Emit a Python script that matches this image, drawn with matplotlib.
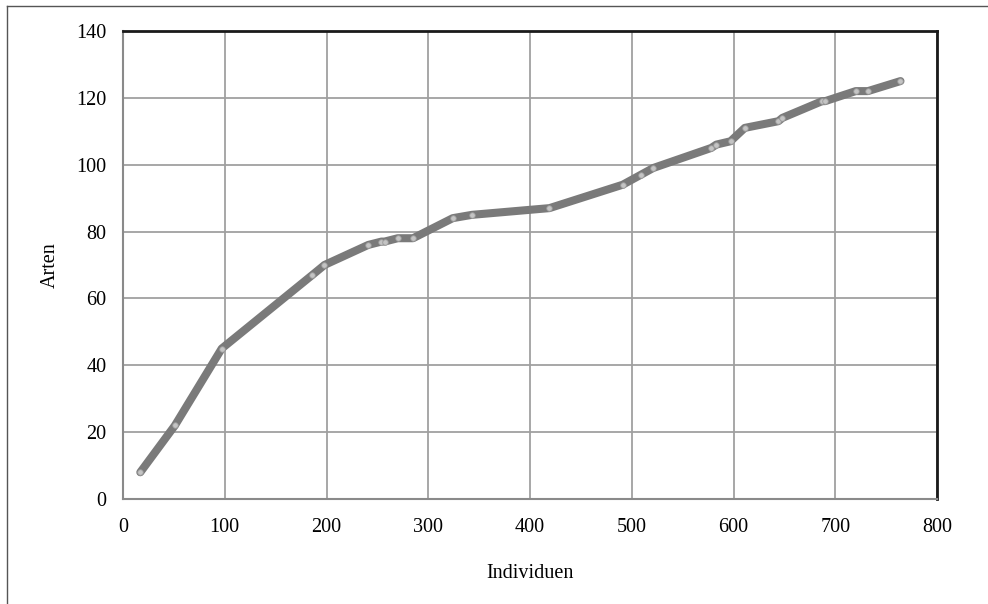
import matplotlib.pyplot as plt
from matplotlib.lines import Line2D

plt.rcParams["font.family"] = ["Liberation Serif", "DejaVu Serif"]

# Individuen vs. Arten (species accumulation)
individuen = [17, 51, 97, 186, 198, 241, 254, 257, 270, 285, 324, 343, 419,
              491, 509, 521, 578, 583, 597, 611, 644, 648, 687, 690, 720,
              732, 764]
arten = [8, 22, 45, 67, 70, 76, 77, 77, 78, 78, 84, 85, 87,
         94, 97, 99, 105, 106, 107, 111, 113, 114, 119, 119, 122,
         122, 125]

fig = plt.figure(figsize=(9.88, 6.04), dpi=100)
ax = fig.add_axes([0.1245, 0.1738, 0.824, 0.775])

ax.plot(individuen, arten, color="#7a7a7a", linewidth=5.8,
        solid_capstyle="round", solid_joinstyle="round", zorder=3)
ax.plot(individuen, arten, linestyle="none", marker="o", markersize=4,
        markerfacecolor="#c4c4c4", markeredgecolor="#9a9a9a",
        markeredgewidth=0.6, zorder=4)

ax.set_xlim(0, 800)
ax.set_ylim(0, 140)
ax.set_xticks(range(0, 801, 100))
ax.set_yticks(range(0, 141, 20))
ax.grid(True, color="#a0a0a0", linewidth=1.3)
ax.set_axisbelow(True)
ax.tick_params(length=0, labelsize=14.5)
ax.tick_params(axis="x", pad=14)
ax.tick_params(axis="y", pad=12)

ax.spines["left"].set_color("#8a8a8a")
ax.spines["bottom"].set_color("#8a8a8a")
ax.spines["left"].set_linewidth(1.5)
ax.spines["bottom"].set_linewidth(1.5)
ax.spines["top"].set_color("#1a1a1a")
ax.spines["right"].set_color("#1a1a1a")
ax.spines["top"].set_linewidth(2)
ax.spines["right"].set_linewidth(2)

ax.set_xlabel("Individuen", fontsize=14.5, labelpad=19)
ax.set_ylabel("Arten", fontsize=14.5, labelpad=12)

# outer frame (only left and top edges visible)
fig.add_artist(Line2D([0.0075, 0.0075], [0, 0.99], transform=fig.transFigure,
                      color="#555555", linewidth=1))
fig.add_artist(Line2D([0.0075, 1.0], [0.99, 0.99], transform=fig.transFigure,
                      color="#555555", linewidth=1))

fig.savefig("out.png", dpi=100)
